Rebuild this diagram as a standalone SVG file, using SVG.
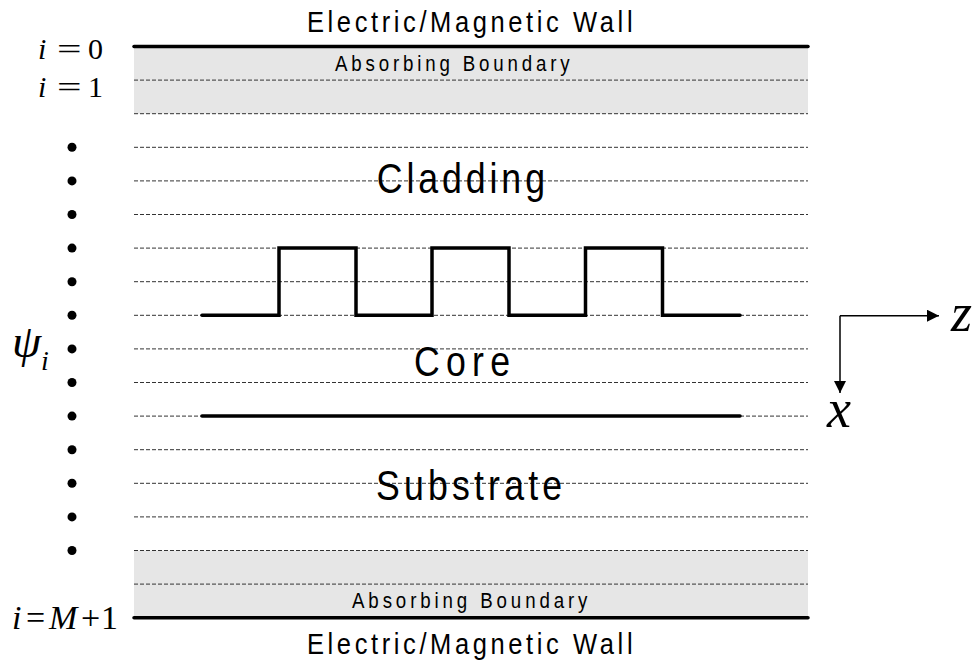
<svg xmlns="http://www.w3.org/2000/svg" width="979" height="668" viewBox="0 0 979 668">
<style>
.grid{stroke:#333;stroke-width:1;stroke-dasharray:4 2;fill:none}
.wall{stroke:#000;stroke-width:3.5;stroke-linecap:round;fill:none}
.wave{stroke:#000;stroke-width:3.5;stroke-linecap:round;stroke-linejoin:miter;fill:none}
.band{fill:#e6e6e6}
.sans{font-family:"Liberation Sans",Arial,sans-serif;fill:#000}
.math{font-family:"Liberation Serif","Times New Roman",serif;fill:#000}
.it{font-style:italic}
.axis{stroke:#000;stroke-width:1.5;fill:none}
.dot{fill:#000}
</style>
<defs>
<marker id="ah" viewBox="0 0 12 12" refX="12" refY="6" markerWidth="12" markerHeight="12" markerUnits="userSpaceOnUse" orient="auto">
<path d="M0,0 L12,6 L0,12 Z" fill="#000"/>
</marker>
</defs>
<rect width="979" height="668" fill="#fff"/>
<g id="absorbing-top">
<rect class="band" x="134" y="46.5" width="674" height="67.2"/>
<text class="sans" transform="translate(335,70.7) scale(0.85,1)" font-size="22" textLength="276" lengthAdjust="spacing">Absorbing Boundary</text>
</g>
<g id="absorbing-bottom">
<rect class="band" x="134" y="550.5" width="674" height="67.2"/>
<text class="sans" transform="translate(352,608) scale(0.85,1)" font-size="22" textLength="277" lengthAdjust="spacing">Absorbing Boundary</text>
</g>
<g id="grid">
<line class="grid" x1="134" y1="80.1" x2="808" y2="80.1"/>
<line class="grid" x1="134" y1="113.7" x2="808" y2="113.7"/>
<line class="grid" x1="134" y1="147.3" x2="808" y2="147.3"/>
<line class="grid" x1="134" y1="180.9" x2="808" y2="180.9"/>
<line class="grid" x1="134" y1="214.5" x2="808" y2="214.5"/>
<line class="grid" x1="134" y1="248.1" x2="808" y2="248.1"/>
<line class="grid" x1="134" y1="281.7" x2="808" y2="281.7"/>
<line class="grid" x1="134" y1="315.3" x2="808" y2="315.3"/>
<line class="grid" x1="134" y1="348.9" x2="808" y2="348.9"/>
<line class="grid" x1="134" y1="382.5" x2="808" y2="382.5"/>
<line class="grid" x1="134" y1="416.1" x2="808" y2="416.1"/>
<line class="grid" x1="134" y1="449.7" x2="808" y2="449.7"/>
<line class="grid" x1="134" y1="483.3" x2="808" y2="483.3"/>
<line class="grid" x1="134" y1="516.9" x2="808" y2="516.9"/>
<line class="grid" x1="134" y1="550.5" x2="808" y2="550.5"/>
<line class="grid" x1="134" y1="584.1" x2="808" y2="584.1"/>
</g>
<g id="wall-top">
<line class="wall" x1="134" y1="46.5" x2="808" y2="46.5"/>
<text class="sans" transform="translate(307,31.5) scale(0.85,1)" font-size="30" textLength="383" lengthAdjust="spacing">Electric/Magnetic Wall</text>
</g>
<g id="wall-bottom">
<line class="wall" x1="134" y1="617.7" x2="808" y2="617.7"/>
<text class="sans" transform="translate(307,654) scale(0.85,1)" font-size="30" textLength="383" lengthAdjust="spacing">Electric/Magnetic Wall</text>
</g>
<g id="cladding">
<text class="sans" transform="translate(376.7,193.3) scale(0.85,1)" font-size="42" textLength="198" lengthAdjust="spacing">Cladding</text>
</g>
<g id="grating">
<path class="wave" d="M202,315.3 H279 V248.1 H356 V315.3 H432 V248.1 H509 V315.3 H585.5 V248.1 H662.5 V315.3 H740"/>
</g>
<g id="core">
<text class="sans" transform="translate(414,376) scale(0.85,1)" font-size="42" textLength="113" lengthAdjust="spacing">Core</text>
<line class="wall" x1="202" y1="416.1" x2="740" y2="416.1"/>
</g>
<g id="substrate">
<text class="sans" transform="translate(376,500) scale(0.85,1)" font-size="42" textLength="219" lengthAdjust="spacing">Substrate</text>
</g>
<g id="index-labels">
<text class="math it" font-size="30" x="38" y="59">i</text>
<text class="math" font-size="30" transform="translate(57,59) scale(1.45,1)">=</text>
<text class="math" font-size="30" x="88" y="59">0</text>
<text class="math it" font-size="30" x="38" y="97">i</text>
<text class="math" font-size="30" transform="translate(57,97) scale(1.45,1)">=</text>
<text class="math" font-size="30" x="88" y="97">1</text>
<text class="math" font-size="34" y="629"><tspan class="it" x="12">i</tspan><tspan x="26">=</tspan><tspan class="it" x="49">M</tspan><tspan x="81">+</tspan><tspan x="101">1</tspan></text>
</g>
<g id="psi">
<text class="math it" font-size="47" x="12" y="357">ψ</text>
<text class="math it" font-size="28" x="41" y="370">i</text>
</g>
<g id="dots">
<circle class="dot" cx="72" cy="147.3" r="4.5"/>
<circle class="dot" cx="72" cy="180.9" r="4.5"/>
<circle class="dot" cx="72" cy="214.5" r="4.5"/>
<circle class="dot" cx="72" cy="248.1" r="4.5"/>
<circle class="dot" cx="72" cy="281.7" r="4.5"/>
<circle class="dot" cx="72" cy="315.3" r="4.5"/>
<circle class="dot" cx="72" cy="348.9" r="4.5"/>
<circle class="dot" cx="72" cy="382.5" r="4.5"/>
<circle class="dot" cx="72" cy="416.1" r="4.5"/>
<circle class="dot" cx="72" cy="449.7" r="4.5"/>
<circle class="dot" cx="72" cy="483.3" r="4.5"/>
<circle class="dot" cx="72" cy="516.9" r="4.5"/>
<circle class="dot" cx="72" cy="550.5" r="4.5"/>
</g>
<g id="connectors">
<line class="axis" x1="840" y1="315.7" x2="939" y2="315.7" marker-end="url(#ah)"/>
<line class="axis" x1="840" y1="315.7" x2="840" y2="393" marker-end="url(#ah)"/>
</g>
<g id="axis-labels">
<text class="math it" font-size="54" x="951" y="331">z</text>
<text class="math it" font-size="54" x="827" y="427">x</text>
</g>
</svg>
